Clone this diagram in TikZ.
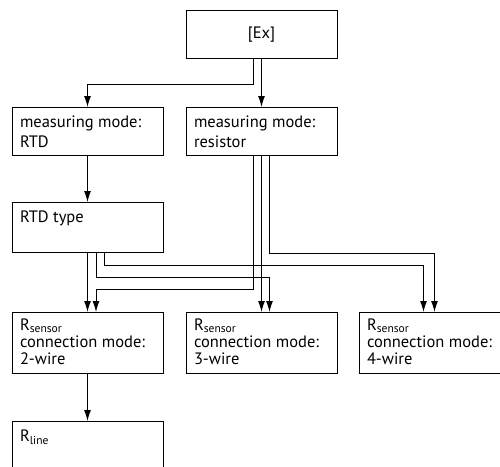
\documentclass[tikz,border=0pt]{standalone}
\usepackage{fontspec}
\setmainfont{PT Sans}
\usetikzlibrary{arrows.meta}
\tikzset{block/.style={draw,line width=1pt,inner xsep=8pt,inner ysep=6pt,
                       anchor=north,font=\fontsize{16.5}{20}\selectfont}}
\tikzset{wireblock/.style={block,font=\fontsize{16.5}{17}\selectfont}}
\tikzset{headblock/.style={draw,line width=1pt,minimum width=151pt,minimum height=48pt,
                           anchor=north,font=\fontsize{16.5}{20}\selectfont}}
\tikzset{link/.style={-{Latex[length=11pt,width=7pt]},line width=1pt}}
\newcommand{\blocktext}[2]{\parbox[c][#1][t]{135pt}{\strut #2}}

\begin{document}
\begin{tikzpicture}[x=1pt,y=-1pt]
  \useasboundingbox (0,0) rectangle (500,466);
  \clip (0,0) rectangle (500,466);

  \node (ex) at (261.5,10) [headblock]{[Ex]};

  \node (mmrtd) at (87.5,107) [block]{\blocktext{36pt}{measuring mode:\\RTD}};
  \node (mmres) at (261.5,107) [block]{\blocktext{36pt}{measuring mode:\\resistor}};

  \node (rtdtype) at (87.5,202) [block]{\blocktext{38pt}{RTD type}};

  \node (wire2) at (87.5,312) [wireblock]{\blocktext{49pt}{R\textsubscript{sensor}\\connection mode:\\2-wire}};
  \node (wire3) at (261.5,312) [wireblock]{\blocktext{49pt}{R\textsubscript{sensor}\\connection mode:\\3-wire}};
  \node (wire4) at (434.5,312) [wireblock]{\blocktext{49pt}{R\textsubscript{sensor}\\connection mode:\\4-wire}};

  \node (rline) at (87.5,421) [block]{\blocktext{36pt}{R\textsubscript{line}}};

  \draw[link] ([xshift=-8.5pt]ex.south) -- ++(0,25) -| (mmrtd.north);
  \draw[link] (ex.south) -- (mmres.north);

  \draw[link] (mmrtd.south) -- (rtdtype.north);

  \draw[link] ([xshift=-8.5pt]mmres.south) -- ++(0,133) -| ([xshift=8.5pt]wire2.north);
  \draw[link] (mmres.south) -- (wire3.north);
  \draw[link] ([xshift=8pt]mmres.south) -- ++(0,97) -| (wire4.north);

  \draw[link] (rtdtype.south) -- (wire2.north);
  \draw[link] ([xshift=8.5pt]rtdtype.south) -- ++(0,24) -| ([xshift=8pt]wire3.north);
  \draw[link] ([xshift=17pt]rtdtype.south) -- ++(0,12) -| ([xshift=-11pt]wire4.north);

  \draw[link] (wire2.south) -- (rline.north);
\end{tikzpicture}
\end{document}
